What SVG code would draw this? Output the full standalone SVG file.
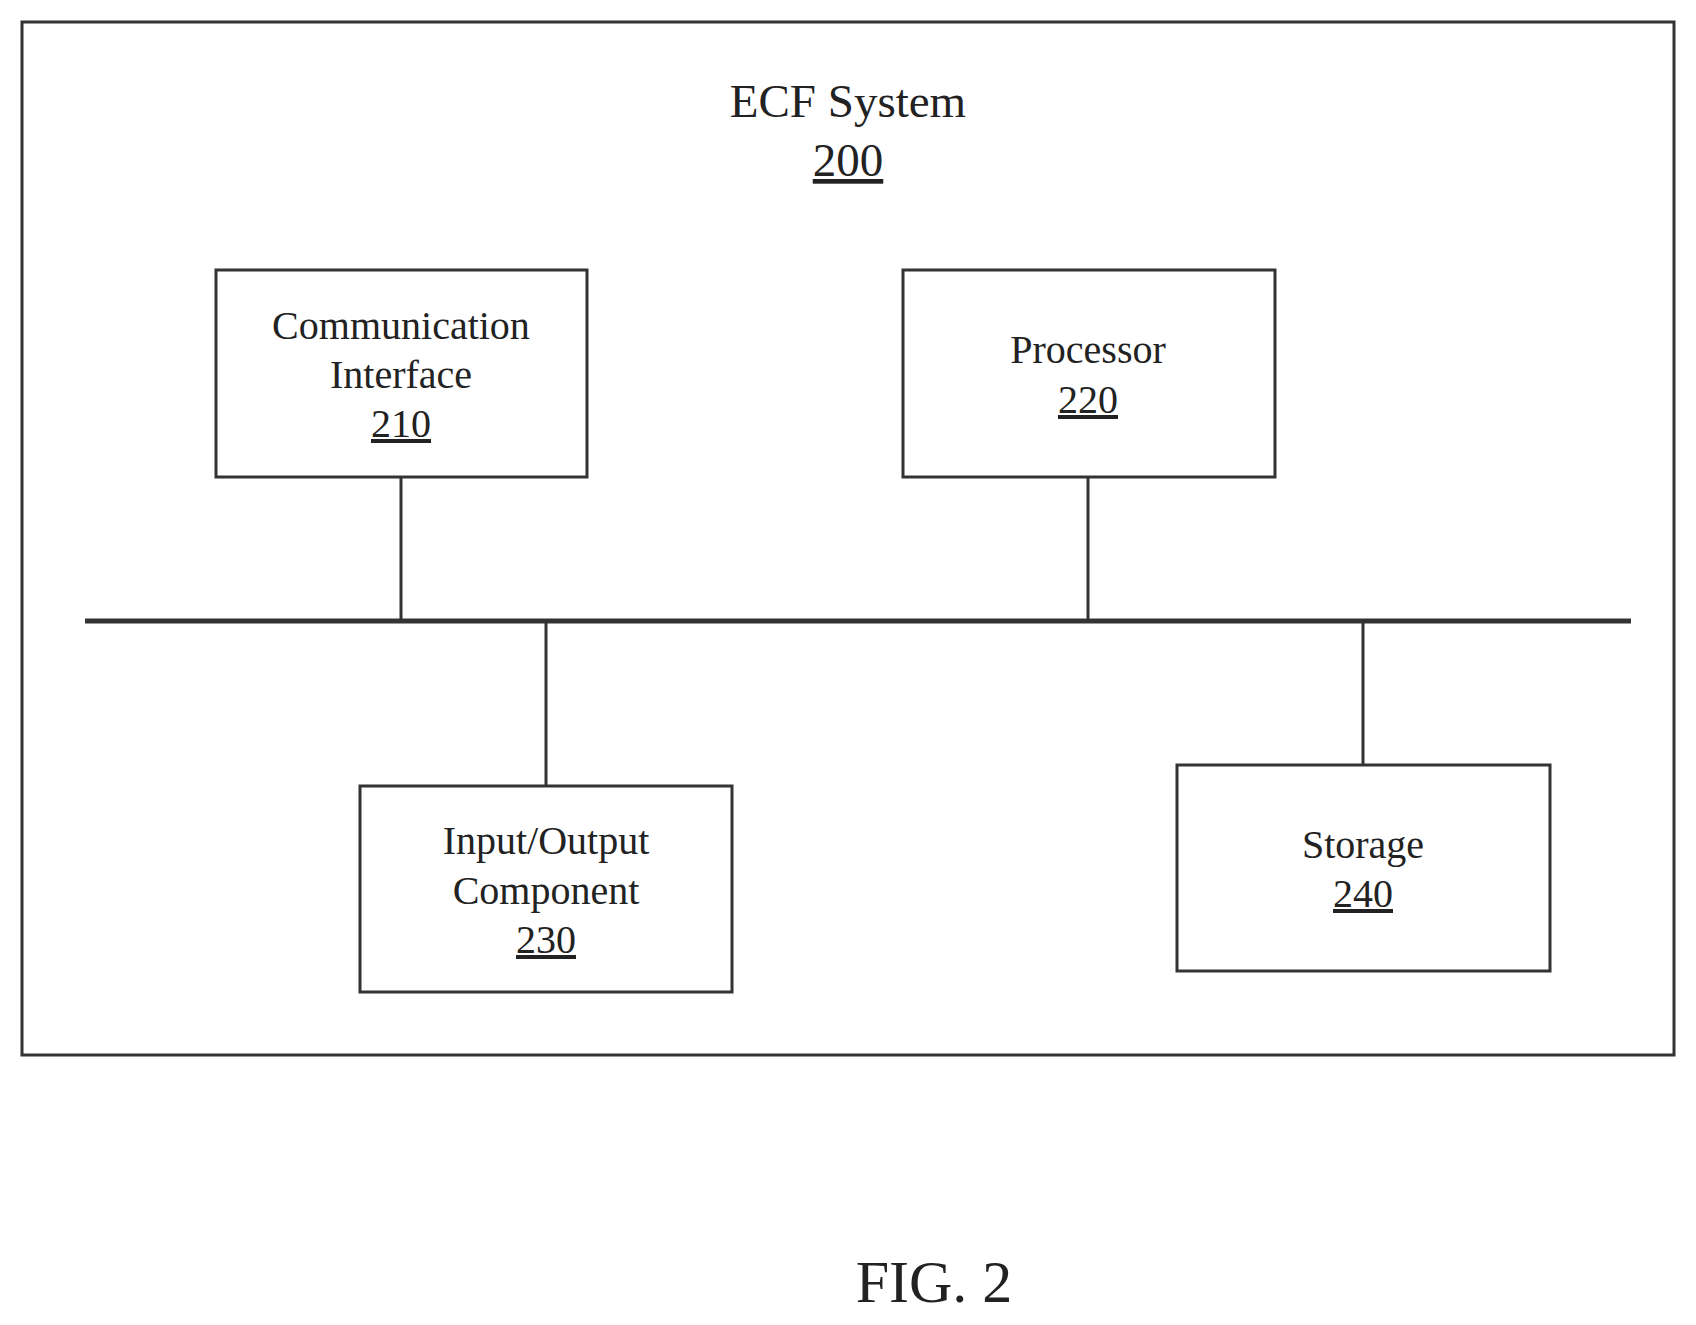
<svg xmlns="http://www.w3.org/2000/svg" width="1696" height="1325" viewBox="0 0 1696 1325">
<style>
.b{fill:none;stroke:#333;stroke-width:3}
.t{font-family:"Liberation Serif",serif;font-size:40px;fill:#222;text-anchor:middle}
.u{text-decoration:underline}
.c{stroke:#333;stroke-width:3;fill:none}
</style>
<rect width="1696" height="1325" fill="#fff"/>
<g id="system">
<rect class="b" x="22" y="22" width="1652" height="1033"/>
<text class="t" x="848" y="117" style="font-size:47px">ECF System</text>
<text class="t u" x="848" y="176" style="font-size:47px">200</text>
</g>
<g id="connectors">
<line class="c" x1="85" y1="621" x2="1631" y2="621" style="stroke-width:5"/>
<line class="c" x1="401" y1="477" x2="401" y2="621"/>
<line class="c" x1="1088" y1="477" x2="1088" y2="621"/>
<line class="c" x1="546" y1="621" x2="546" y2="786"/>
<line class="c" x1="1363" y1="621" x2="1363" y2="765"/>
</g>
<g id="n210">
<rect class="b" x="216" y="270" width="371" height="207"/>
<text class="t" x="401" y="339">Communication</text>
<text class="t" x="401" y="388">Interface</text>
<text class="t u" x="401" y="437">210</text>
</g>
<g id="n220">
<rect class="b" x="903" y="270" width="372" height="207"/>
<text class="t" x="1088" y="363">Processor</text>
<text class="t u" x="1088" y="413">220</text>
</g>
<g id="n230">
<rect class="b" x="360" y="786" width="372" height="206"/>
<text class="t" x="546" y="854">Input/Output</text>
<text class="t" x="546" y="904">Component</text>
<text class="t u" x="546" y="953">230</text>
</g>
<g id="n240">
<rect class="b" x="1177" y="765" width="373" height="206"/>
<text class="t" x="1363" y="858">Storage</text>
<text class="t u" x="1363" y="907">240</text>
</g>
<text class="t" x="934" y="1302" style="font-size:60px">FIG. 2</text>
</svg>
